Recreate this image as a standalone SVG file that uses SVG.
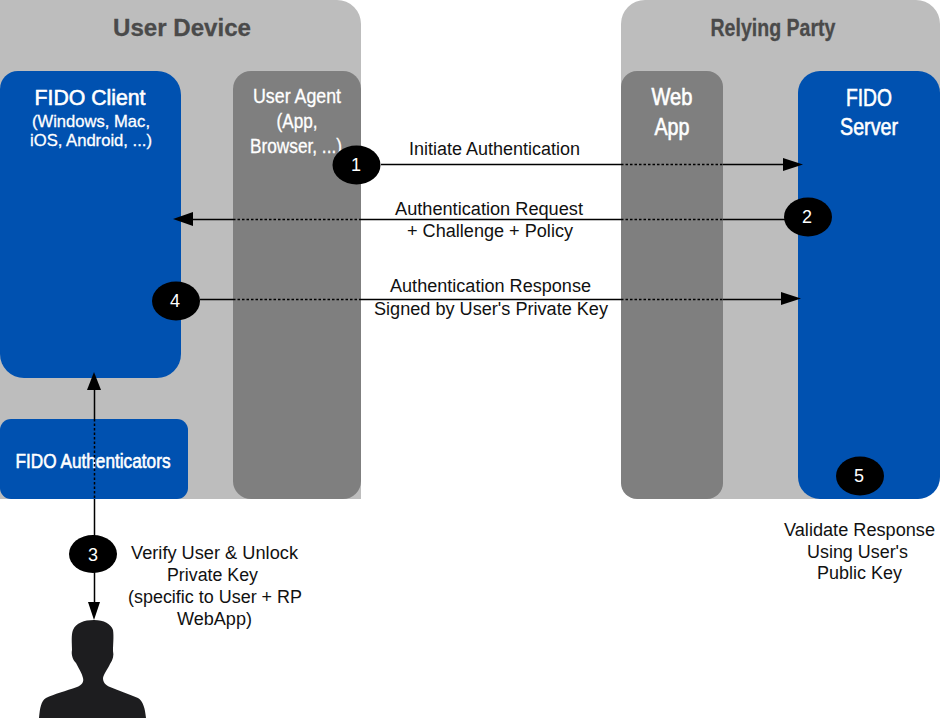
<svg xmlns="http://www.w3.org/2000/svg" width="949" height="718" viewBox="0 0 949 718">
<style>
text{font-family:"Liberation Sans",Arial,sans-serif;text-anchor:middle}
.panel{fill:#bdbdbd}
.grey{fill:#7f7f7f}
.blue{fill:#0051b0}
.title{fill:#4a4a4a;stroke:#4a4a4a;stroke-width:.3;font-weight:bold}
.w{fill:#fff;stroke:#fff;stroke-width:.3}
.h{stroke-width:.6}
.k{fill:#111;font-size:18px}
.n{fill:#fff;font-size:18px}
.s{stroke:#000;stroke-width:1.500;fill:none}
.d{stroke:#000;stroke-width:1.500;fill:none;stroke-dasharray:2.500 2}
.a{fill:#000}
</style>
<rect width="949" height="718" fill="#fff"/>
<g id="user-device"><path class="panel" d="M0 0H337a24 24 0 0 1 24 24V499H0Z"/><text class="title" x="182" y="36" font-size="24" textLength="138" lengthAdjust="spacingAndGlyphs">User Device</text></g>
<g id="relying-party"><rect class="panel" x="621" y="0" width="319" height="499" rx="24"/><text class="title" x="773" y="36" font-size="24" textLength="125" lengthAdjust="spacingAndGlyphs">Relying Party</text></g>
<g id="fido-client"><path class="blue" d="M0 89a18 18 0 0 1 18-18H157a24 24 0 0 1 24 24V354a24 24 0 0 1-24 24H24a24 24 0 0 1-24-24Z"/>
<text class="w h" x="90" y="105" font-size="22" textLength="111" lengthAdjust="spacingAndGlyphs">FIDO Client</text>
<text class="w" x="91" y="127" font-size="17" textLength="118" lengthAdjust="spacingAndGlyphs">(Windows, Mac,</text>
<text class="w" x="91" y="146" font-size="17" textLength="122" lengthAdjust="spacingAndGlyphs">iOS, Android, ...)</text></g>
<g id="fido-authenticators"><rect class="blue" x="0" y="419" width="188" height="80" rx="11"/><text class="w h" x="93" y="468" font-size="21" textLength="155" lengthAdjust="spacingAndGlyphs">FIDO Authenticators</text></g>
<g id="user-agent"><rect class="grey" x="233" y="71" width="128" height="428" rx="18"/>
<text class="w" x="297" y="103" font-size="20" textLength="88" lengthAdjust="spacingAndGlyphs">User Agent</text>
<text class="w" x="297" y="128" font-size="20" textLength="41" lengthAdjust="spacingAndGlyphs">(App,</text>
<text class="w" x="296" y="153" font-size="20" textLength="92" lengthAdjust="spacingAndGlyphs">Browser, ...)</text></g>
<g id="web-app"><rect class="grey" x="621" y="71" width="102" height="428" rx="16"/>
<text class="w h" x="672" y="105" font-size="24" textLength="41" lengthAdjust="spacingAndGlyphs">Web</text>
<text class="w h" x="672" y="135" font-size="24" textLength="35" lengthAdjust="spacingAndGlyphs">App</text></g>
<g id="fido-server"><rect class="blue" x="798" y="71" width="142" height="428" rx="22"/>
<text class="w h" x="869" y="106" font-size="24" textLength="46" lengthAdjust="spacingAndGlyphs">FIDO</text>
<text class="w h" x="869" y="135" font-size="24" textLength="58" lengthAdjust="spacingAndGlyphs">Server</text></g>
<g id="connectors">
<path class="s" d="M381 164.500H621M723 164.500H785"/><path class="d" d="M621 164.500H723"/><path class="a" d="M803 164.500L783 158V171Z"/>
<path class="s" d="M192 219.500H233M361 219.500H621M723 219.500H785"/><path class="d" d="M233 219.500H361M621 219.500H723"/><path class="a" d="M173 219L193 212V226Z"/>
<path class="s" d="M200 299.500H233M361 299.500H621M723 299.500H783"/><path class="d" d="M233 299.500H361M621 299.500H723"/><path class="a" d="M801 298.500L781 292V305Z"/>
<path class="s" d="M94.500 388V419M94.500 499V603"/><path class="d" d="M94.500 419V499"/><path class="a" d="M94 372L87 390H101Z"/><path class="a" d="M94 620L88 602H100Z"/>
</g>
<g id="step-1"><ellipse cx="356.500" cy="165" rx="24" ry="19.500" class="a"/><text class="n" x="356" y="171">1</text></g>
<g id="step-2"><ellipse cx="808" cy="217" rx="24" ry="19.500" class="a"/><text class="n" x="807" y="223">2</text></g>
<g id="step-3"><ellipse cx="93" cy="554" rx="24" ry="19" class="a"/><text class="n" x="93" y="561">3</text></g>
<g id="step-4"><ellipse cx="176" cy="301" rx="24" ry="19.500" class="a"/><text class="n" x="175" y="307">4</text></g>
<g id="step-5"><ellipse cx="860" cy="476" rx="24" ry="19.500" class="a"/><text class="n" x="859" y="482">5</text></g>
<g id="labels">
<text class="k" x="494.500" y="154.500" textLength="171" lengthAdjust="spacingAndGlyphs">Initiate Authentication</text>
<text class="k" x="489" y="214.500" textLength="188" lengthAdjust="spacingAndGlyphs">Authentication Request</text>
<text class="k" x="490" y="236.500" textLength="166" lengthAdjust="spacingAndGlyphs">+ Challenge + Policy</text>
<text class="k" x="490.500" y="292" textLength="201" lengthAdjust="spacingAndGlyphs">Authentication Response</text>
<text class="k" x="491" y="315" textLength="234" lengthAdjust="spacingAndGlyphs">Signed by User's Private Key</text>
<text class="k" x="214.500" y="559" textLength="167" lengthAdjust="spacingAndGlyphs">Verify User &amp; Unlock</text>
<text class="k" x="212.500" y="581" textLength="91" lengthAdjust="spacingAndGlyphs">Private Key</text>
<text class="k" x="215" y="603" textLength="174" lengthAdjust="spacingAndGlyphs">(specific to User + RP</text>
<text class="k" x="214.500" y="625" textLength="75" lengthAdjust="spacingAndGlyphs">WebApp)</text>
<text class="k" x="859.500" y="536" textLength="151" lengthAdjust="spacingAndGlyphs">Validate Response</text>
<text class="k" x="857.500" y="558" textLength="101" lengthAdjust="spacingAndGlyphs">Using User's</text>
<text class="k" x="859.500" y="579" textLength="85" lengthAdjust="spacingAndGlyphs">Public Key</text>
</g>
<g id="user"><path fill="#1d1d1f" d="M94 620C104 620 111 624 113 630C114 636 113 645 113 651C114 655 113 660 110 664C108 669 104 673 103 678C103 682 105 685 110 687C119 691 129 694 138 698C143 701 145 708 146 718H39C40 708 41 701 46 698C54 694 66 691 77 687C82 685 84 682 83 678C82 673 79 669 76 663C73 660 71 655 72 650C72 643 71 635 73 630C76 623 84 620 94 620Z"/></g>
</svg>
